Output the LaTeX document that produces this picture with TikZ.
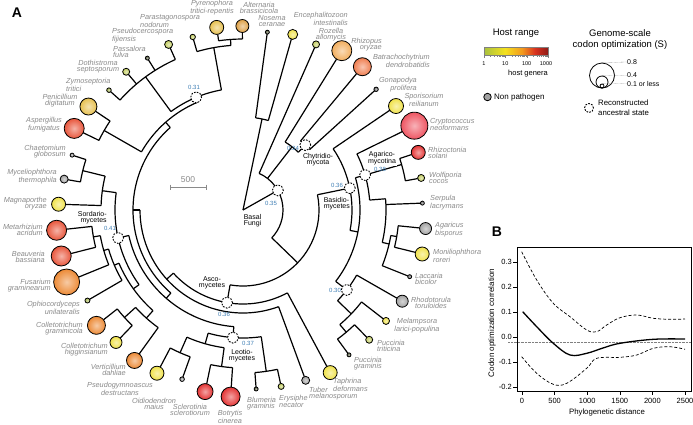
\documentclass[tikz,border=0pt]{standalone}
\usepackage{fontspec}
\setmainfont{Liberation Sans}
\usetikzlibrary{calc}
\definecolor{labgray}{HTML}{8A8A8A}
\definecolor{numblue}{HTML}{3F7FB5}
\definecolor{cdark}{HTML}{5E6448}
\definecolor{cgraydk}{HTML}{7A7A7A}
\definecolor{cgray}{HTML}{A2A2A2}
\definecolor{cyel}{HTML}{F0E24A}
\definecolor{cyg}{HTML}{C4CE62}
\definecolor{cgreen}{HTML}{A9B956}
\definecolor{cgold}{HTML}{E6C050}
\definecolor{camber}{HTML}{DDA046}
\definecolor{cltor}{HTML}{F2AE5E}
\definecolor{corange}{HTML}{EC8A36}
\definecolor{csalmon}{HTML}{F07E50}
\definecolor{credor}{HTML}{E8563C}
\definecolor{cred}{HTML}{E43434}
\definecolor{cpink}{HTML}{EE5562}
\definecolor{cb0}{HTML}{A9C23F}
\definecolor{cb1}{HTML}{F4E11E}
\definecolor{cb2}{HTML}{F39A1E}
\definecolor{cb3}{HTML}{D9331F}
\definecolor{cb4}{HTML}{8E1A16}
\tikzset{
  br/.style={line width=1.2pt, line join=round},
  leafdot/.style={circle, draw=black, line width=0.8pt, inner sep=0pt, shade, shading=radial},
  anc/.style={circle, draw=black, dash pattern=on 1.7pt off 1.3pt, fill=white, line width=0.9pt, minimum size=11pt, inner sep=0pt},
  lab/.style={font=\fontsize{7.3}{6}\selectfont\itshape, text=labgray, inner sep=0pt},
  clade/.style={font=\fontsize{7}{6.3}\selectfont, text=black, inner sep=0.6pt, fill=white},
  num/.style={font=\fontsize{6}{6}\selectfont, text=numblue, inner sep=0pt},
  tick/.style={font=\fontsize{7.5}{8}\selectfont},
}
\newcommand\rl[3]{\draw[br] ($(O)+(#1:#2)$) -- ($(O)+(#1:#3)$);}
\newcommand\ca[3]{\draw[br] ($(O)+(#2:#1)$) arc[start angle=#2,end angle=#3,radius=#1];}
\newcommand\lf[5]{%
  \pgfmathsetmacro\la{-82.2+8*#2}%
  \pgfmathsetmacro\lr{177.5+#3}%
  \pgfmathsetmacro\ld{2*#3}%
  \draw[br] ($(O)+(\la:#5)$) -- ($(O)+(\la:177.5)$);%
  \node[leafdot, minimum size=\ld pt, inner color=#4!45!white, outer color=#4] (#1) at ($(O)+(\la:\lr)$) {};%
}
\begin{document}
\begin{tikzpicture}[x=1pt,y=-1pt]
\useasboundingbox (0,0) rectangle (693,424);
\fill[white] (0,0) rectangle (693,424);
\coordinate (O) at (243,210);

% ---------------- tree ----------------
\rl{-78.2}{0}{93} \ca{93}{-82.2}{-74.2}
\lf{nosema}{0}{2}{cdark}{93}
\lf{enceph}{1}{5}{cyel}{93}
\rl{-29.4}{0}{40} \ca{40}{-66.2}{44}
\lf{rozella}{2}{3.5}{cyg}{40}
\rl{-52.2}{40}{80} \ca{80}{-58.2}{-46.2}
\lf{rhizopus}{3}{10}{cltor}{80}
\rl{-46.2}{80}{90} \ca{90}{-50.2}{-42.2}
\lf{batracho}{4}{9}{csalmon}{90}
\lf{gonapodya}{5}{2.2}{cgraydk}{90}
% Dikarya
\rl{44}{40}{76} \ca{76}{-11.6}{99.8}
% Basidiomycetes
\rl{-11.6}{76}{109} \ca{109}{-34.2}{10.8}
\lf{sporis}{6}{7.5}{cyel}{109}
\rl{10.8}{109}{117} \ca{117}{-16}{37.6}
\rl{-16}{117}{127} \ca{127}{-26.2}{-4.5}
\lf{crypto}{7}{13.5}{cpink}{127}
\rl{-16}{127}{165} \ca{165}{-18.2}{-10.2}
\lf{rhizoc}{8}{7}{cred}{165}
\lf{wolfi}{9}{3.5}{cyg}{165}
\rl{-4.5}{127}{143} \ca{143}{-4.5}{13.1}
\lf{serpula}{10}{2}{cgraydk}{143}
\rl{13.1}{143}{150} \ca{150}{9.8}{21.8}
\rl{9.8}{150}{156} \ca{156}{5.8}{13.8}
\lf{agaricus}{11}{6}{cgray}{156}
\lf{monilio}{12}{7}{cyel}{156}
\lf{laccaria}{13}{2}{cgraydk}{150}
\rl{37.6}{117}{131} \ca{131}{29.8}{43.8}
\lf{rhodo}{14}{6}{cgray}{131}
\rl{43.8}{131}{150} \ca{150}{37.8}{49.8}
\lf{melamp}{15}{3.5}{cyel}{150}
\rl{49.8}{150}{160} \ca{160}{45.8}{53.8}
\lf{ptrit}{16}{3.5}{cyg}{160}
\lf{pgram}{17}{2}{cdark}{160}
% Ascomycetes
\rl{99.8}{76}{94} \ca{94}{61.8}{137.8}
\lf{taphrina}{18}{7}{cyel}{94}
\rl{137.8}{94}{103} \ca{103}{69.8}{180}
\lf{tuber}{19}{4}{cgray}{103}
\rl{180}{103}{110} \ca{110}{131}{228.6}
\rl{131}{110}{117} \ca{117}{94.5}{167.4}
% Leotiomycetes
\rl{94.5}{117}{128} \ca{128}{81.8}{105.8}
\rl{81.8}{128}{163} \ca{163}{77.8}{85.8}
\lf{erysiphe}{20}{3}{cyg}{163}
\lf{blumeria}{21}{2}{cdark}{163}
\rl{105.8}{128}{139} \ca{139}{97.8}{113.8}
\rl{97.8}{139}{158} \ca{158}{93.8}{101.8}
\lf{botrytis}{22}{9.5}{cred}{158}
\lf{sclero}{23}{8}{cred}{158}
\rl{113.8}{139}{156} \ca{156}{109.8}{117.8}
\lf{oidio}{24}{2.3}{cgray}{156}
\lf{pseudog}{25}{7}{cyel}{156}
% Sordariomycetes
\rl{167.4}{117}{128} \ca{128}{144.3}{187.8}
\rl{144.3}{128}{135} \ca{135}{131.8}{156.8}
\rl{131.8}{135}{145} \ca{145}{125.8}{137.8}
\lf{vertic}{26}{8}{corange}{145}
\rl{137.8}{145}{160} \ca{160}{133.8}{141.8}
\lf{chigg}{27}{6}{cyel}{160}
\lf{cgram}{28}{9}{corange}{160}
\rl{156.8}{135}{140} \ca{140}{149.8}{163.8}
\lf{ophio}{29}{2.5}{cgreen}{140}
\rl{163.8}{140}{145} \ca{145}{157.8}{169.8}
\lf{fusarium}{30}{13}{corange}{145}
\rl{169.8}{145}{152} \ca{152}{165.8}{173.8}
\lf{beauv}{31}{10}{credor}{152}
\lf{metarh}{32}{10}{credor}{152}
\rl{187.8}{128}{142} \ca{142}{181.8}{193.8}
\lf{magna}{33}{7}{cyel}{142}
\rl{193.8}{142}{165} \ca{165}{189.8}{197.8}
\lf{myceli}{34}{4}{cgray}{165}
\lf{chaeto}{35}{2}{cgray}{165}
% Eurotio + Dothideo
\rl{228.6}{110}{117} \ca{117}{209.8}{247.4}
\rl{209.8}{117}{160} \ca{160}{205.8}{213.8}
\lf{asperg}{36}{10}{credor}{160}
\lf{penic}{37}{8.5}{cgold}{160}
\rl{247.4}{117}{122} \ca{122}{233.8}{259.8}
\rl{233.8}{122}{165} \ca{165}{221.8}{245.8}
\lf{zymo}{38}{2.3}{cgreen}{165}
\lf{dothi}{39}{3.5}{cyg}{165}
\lf{passal}{40}{2}{cdark}{165}
\lf{pseudoc}{41}{4}{cyg}{165}
\rl{259.8}{122}{165} \ca{165}{253.8}{265.8}
\lf{parast}{42}{2.7}{cyg}{165}
\rl{265.8}{165}{171} \ca{171}{261.8}{269.8}
\lf{pyren}{43}{7}{cgold}{171}
\lf{altern}{44}{6.5}{camber}{171}

% ancestral states
\node[anc] (a031) at ($(O)+(247.4:122)$) {};
\node[anc] (a034) at ($(O)+(-46.2:90)$) {};
\node[anc] (a035) at ($(O)+(-29.4:40)$) {};
\node[anc] (a036b) at ($(O)+(-11.6:109)$) {};
\node[anc] (a038) at ($(O)+(-16:127)$) {};
\node[anc] (a030) at ($(O)+(37.6:131)$) {};
\node[anc] (a036a) at ($(O)+(99.8:94)$) {};
\node[anc] (a037) at ($(O)+(94.5:128)$) {};
\node[anc] (a041) at ($(O)+(167.4:128)$) {};

\node[num] (n031) at (194,87) {0.31};
\node[num] (n034) at (293,148) {0.34};
\node[num] (n035) at (271,203) {0.35};
\node[num] (n036b) at (337,185) {0.36};
\node[num] (n038) at (380,169) {0.38};
\node[num] (n030) at (335,290) {0.30};
\node[num] (n036a) at (224,314) {0.36};
\node[num] (n037) at (248,343) {0.37};
\node[num] (n041) at (110,228) {0.41};

\node[clade, anchor=east, align=right] (cSord) at (107.5,218) {Sordario-\\mycetes};
\node[clade, align=center] (cAsco) at (212,283) {Asco-\\mycetes};
\node[clade, anchor=west, align=left] (cBasal) at (243,221) {Basal\\Fungi};
\node[clade, align=center] (cChy) at (318,160) {Chytridio-\\mycota};
\node[clade, anchor=west, align=left] (cBas) at (323,204) {Basidio-\\mycetes};
\node[clade, align=center] (cAga) at (382,158) {Agarico-\\mycotina};
\node[clade, align=center] (cLeo) at (242,356) {Leotio-\\mycetes};

\coordinate (sb1) at (170,187); \coordinate (sb2) at (206,187);
\draw[labgray, line width=0.9pt] (sb1) -- (sb2);
\draw[labgray, line width=0.9pt] ($(sb1)+(0,-2.5)$) -- ($(sb1)+(0,2.5)$);
\draw[labgray, line width=0.9pt] ($(sb2)+(0,-2.5)$) -- ($(sb2)+(0,2.5)$);
\node[font=\fontsize{8.5}{9}\selectfont, text=labgray] (sbt) at (188,180) {500};

\node[lab, align=center] (t43) at (212,8) {Pyrenophora\\tritici-repentis};
\node[lab, align=center] (t44) at (259,8) {Alternaria\\brassicicola};
\node[lab, align=center] (t0) at (272,21) {Nosema\\ceranae};
\node[lab, anchor=east, align=right] (t1) at (348,19) {Encephalitozoon\\intestinalis};
\node[lab, align=center] (t2) at (331,34.5) {Rozella\\allomycis};
\node[lab, anchor=east, align=right] (t3) at (382,45) {Rhizopus\\oryzae};
\node[lab, anchor=east, align=right] (t4) at (430,61) {Batrachochytrium\\dendrobatidis};
\node[lab, anchor=east, align=right] (t5) at (417,84.5) {Gonapodya\\prolifera};
\node[lab, align=center] (t6) at (424,99.5) {Sporisorium\\reilianum};
\node[lab, anchor=west, align=left] (t7) at (430,124.5) {Cryptococcus\\neoformans};
\node[lab, anchor=west, align=left] (t8) at (428,153) {Rhizoctonia\\solani};
\node[lab, anchor=west, align=left] (t9) at (429,178) {Wolfiporia\\cocos};
\node[lab, anchor=west, align=left] (t10) at (430,203) {Serpula\\lacrymans};
\node[lab, anchor=west, align=left] (t11) at (435,229.5) {Agaricus\\bisporus};
\node[lab, anchor=west, align=left] (t12) at (433,256) {Moniliophthora\\roreri};
\node[lab, anchor=west, align=left] (t13) at (415,279) {Laccaria\\bicolor};
\node[lab, align=center] (t14) at (431,303) {Rhodotorula\\toruloides};
\node[lab, align=center] (t15) at (417,325.5) {Melampsora\\larici-populina};
\node[lab, anchor=west, align=left] (t16) at (377,346) {Puccinia\\triticina};
\node[lab, anchor=west, align=left] (t17) at (354,364) {Puccinia\\graminis};
\node[lab, anchor=west, align=left] (t18) at (333,385) {Taphrina\\deformans};
\node[lab, anchor=west, align=left] (t19) at (309,393.5) {Tuber\\melanosporum};
\node[lab, anchor=west, align=left] (t20) at (279,401) {Erysiphe\\necator};
\node[lab, anchor=west, align=left] (t21) at (247,404) {Blumeria\\graminis};
\node[lab, align=center] (t22) at (230,417) {Botrytis\\cinerea};
\node[lab, align=center] (t23) at (190,409.5) {Sclerotinia\\sclerotiorum};
\node[lab, align=center] (t24) at (154,404) {Oidiodendron\\maius};
\node[lab, align=center] (t25) at (120,389) {Pseudogymnoascus\\destructans};
\node[lab, anchor=east, align=right] (t26) at (126,370) {Verticillium\\dahliae};
\node[lab, anchor=east, align=right] (t27) at (108,350) {Colletotrichum\\higginsianum};
\node[lab, anchor=east, align=right] (t28) at (83,329) {Colletotrichum\\graminicola};
\node[lab, anchor=east, align=right] (t29) at (80,308) {Ophiocordyceps\\unilateralis};
\node[lab, anchor=east, align=right] (t30) at (51,285.5) {Fusarium\\graminearum};
\node[lab, anchor=east, align=right] (t31) at (45,256.5) {Beauveria\\bassiana};
\node[lab, anchor=east, align=right] (t32) at (43,229.5) {Metarhizium\\acridum};
\node[lab, anchor=east, align=right] (t33) at (47,204) {Magnaporthe\\oryzae};
\node[lab, anchor=east, align=right] (t34) at (57,177) {Myceliophthora\\thermophila};
\node[lab, anchor=east, align=right] (t35) at (66,152) {Chaetomium\\globosum};
\node[lab, align=center] (t36) at (44,125) {Aspergillus\\fumigatus};
\node[lab, align=center] (t37) at (60,100.5) {Penicillium\\digitatum};
\node[lab, anchor=west, align=left] (t38) at (66,84.5) {Zymoseptoria\\tritici};
\node[lab, align=center] (t39) at (98,67) {Dothistroma\\septosporum};
\node[lab, anchor=west, align=left] (t40) at (113,51.5) {Passalora\\fulva};
\node[lab, anchor=west, align=left] (t41) at (112,36) {Pseudocercospora\\fijiensis};
\node[lab, anchor=west, align=left] (t42) at (140,21) {Parastagonospora\\nodorum};

\node[font=\fontsize{14}{14}\selectfont\bfseries] (pA) at (17,13) {A};
\node[font=\fontsize{14}{14}\selectfont\bfseries] (pB) at (497,232) {B};

% legend
\node[font=\fontsize{9.5}{10}\selectfont] (hr) at (516,33) {Host range};
\shade[left color=cb0, right color=cb1] (484,47) rectangle (505,55);
\shade[left color=cb1, right color=cb2] (505,47) rectangle (522,55);
\shade[left color=cb2, right color=cb3] (522,47) rectangle (535,55);
\shade[left color=cb3, right color=cb4] (535,47) rectangle (548,55);
\draw[gray, line width=0.3pt] (484,47) rectangle (548,55);
\foreach \d in {0,1,2}{\foreach \m in {2,...,9}{\pgfmathsetmacro\tx{484+21.33*(\d+log10(\m))}\draw[gray, line width=0.3pt] (\tx,55) -- (\tx,57);}}
\foreach \d in {0,1,2,3}{\pgfmathsetmacro\tx{484+21.33*\d}\draw[gray, line width=0.3pt] (\tx,55) -- (\tx,58);}
\node[font=\fontsize{5.5}{6}\selectfont] (hr1) at (484,64) {1};
\node[font=\fontsize{5.5}{6}\selectfont] (hr2) at (505.3,64) {10};
\node[font=\fontsize{5.5}{6}\selectfont] (hr3) at (526.7,64) {100};
\node[font=\fontsize{5.5}{6}\selectfont] (hr4) at (546,64) {1000};
\node[font=\fontsize{7.5}{8}\selectfont] (hg) at (528,74) {host genera};
\node[circle, draw=black, line width=0.8pt, fill=cgray, minimum size=7.5pt, inner sep=0pt] (np) at (487.5,97) {};
\node[font=\fontsize{8}{8}\selectfont, anchor=west, inner sep=0pt] (npt) at (494,97) {Non pathogen};

\node[font=\fontsize{9.5}{11}\selectfont, align=center] (gs) at (620,40) {Genome-scale\\codon optimization (S)};
\node[circle, draw=black, line width=0.8pt, minimum size=25pt, inner sep=0pt] (s8) at (602,75.5) {};
\node[circle, draw=black, line width=0.8pt, minimum size=12pt, inner sep=0pt] (s4) at (602,82) {};
\node[circle, draw=black, line width=0.8pt, minimum size=4pt, inner sep=0pt] (s1) at (602,86) {};
\node[font=\fontsize{7}{7}\selectfont, anchor=west, inner sep=0pt] (s8t) at (627,62) {0.8};
\node[font=\fontsize{7}{7}\selectfont, anchor=west, inner sep=0pt] (s4t) at (627,75.5) {0.4};
\node[font=\fontsize{7}{7}\selectfont, anchor=west, inner sep=0pt] (s1t) at (627,83.5) {0.1 or less};
\draw[gray, line width=0.3pt, dash pattern=on 0.6pt off 0.6pt] (s8.north) -- (s8t.west);
\draw[gray, line width=0.3pt, dash pattern=on 0.6pt off 0.6pt] (s4.north) -- (s4t.west);
\draw[gray, line width=0.3pt, dash pattern=on 0.6pt off 0.6pt] (s1.north) -- (s1t.west);
\node[circle, draw=black, dash pattern=on 1.7pt off 1.3pt, line width=0.9pt, minimum size=9pt, inner sep=0pt] (rc) at (589,108) {};
\node[font=\fontsize{7.8}{10}\selectfont, anchor=west, align=left, inner sep=0pt] (rct) at (598,108) {Reconstructed\\ancestral state};

% panel B
\draw[line width=0.8pt] (517,247) rectangle (691,391);
\foreach \v/\yy in {0.3/262,0.2/287,0.1/312,0.0/337,-0.1/362,-0.2/387}{
  \draw[line width=0.6pt] (513,\yy) -- (517,\yy);
  \node[tick, anchor=east, inner sep=0pt] at (512,\yy) {\v};}
\foreach \v in {0,500,1000,1500,2000,2500}{
  \pgfmathsetmacro\xx{522+\v*0.0652}
  \draw[line width=0.6pt] (\xx,391) -- (\xx,395);
  \node[tick, inner sep=0pt] at (\xx,401) {\v};}
\node[font=\fontsize{8}{8}\selectfont, rotate=90] (ylab) at (492,323) {Codon optimization correlation};
\node[font=\fontsize{7.8}{8}\selectfont] (xlab) at (607,412) {Phylogenetic distance};
\draw[gray, line width=0.5pt, dash pattern=on 0.7pt off 0.7pt] (508,342.5) -- (691,342.5);
\draw[line width=1.3pt] plot[smooth, tension=0.6] coordinates {(522.7,311.7) (537,327) (553.3,343.3) (570,355) (586.7,353.3) (603,348) (620,343.3) (653.3,339.3) (685,339)};
\draw[line width=0.7pt, dash pattern=on 3pt off 2pt] plot[smooth, tension=0.6] coordinates {(521.7,251.7) (536.7,280) (553.3,303.3) (570,316.7) (586.7,330) (596.7,331.7) (606.7,325) (620,317.7) (636.7,315) (653.3,318.3) (670,319.3) (685,319)};
\draw[line width=0.7pt, dash pattern=on 3pt off 2pt] plot[smooth, tension=0.6] coordinates {(521.7,356.7) (536.7,373.3) (553.3,384.3) (566.7,383.3) (586.7,368.3) (596.7,358.3) (620,357.3) (636.7,355) (653.3,348.3) (670,346.7) (685,349.3)};
\end{tikzpicture}
\end{document}
